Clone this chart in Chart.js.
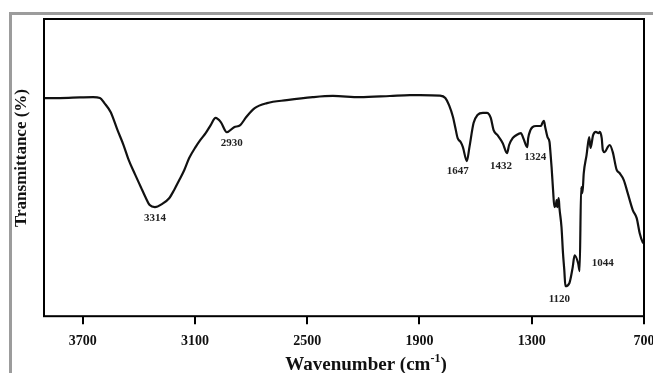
<!DOCTYPE html>
<html>
<head>
<meta charset="utf-8">
<script src="https://cdn.jsdelivr.net/npm/chart.js@4.4.1/dist/chart.umd.min.js"></script>
<style>
  html, body { margin: 0; padding: 0; background: #fff; }
  #wrap { position: relative; width: 653px; height: 373px; }
</style>
</head>
<body>
<div id="wrap"><canvas id="ftir" width="653" height="373"></canvas></div>
<script>
// FTIR spectrum, wavenumber in cm-1 (axis runs high -> low)
const wavenumber = [
  3907, 3822, 3715, 3645, 3608, 3584, 3551, 3514, 3482, 3454,
  3421, 3389, 3365, 3342, 3314, 3277, 3238, 3212, 3184, 3157,
  3131, 3097, 3071, 3043, 3016, 2990, 2962, 2930, 2891, 2858,
  2826, 2781, 2715, 2609, 2470, 2363, 2219, 2058, 1951, 1898,
  1791, 1762, 1742, 1721, 1709, 1696, 1680, 1668, 1647, 1633,
  1611, 1590, 1561, 1540, 1519, 1504, 1483, 1455, 1432, 1421,
  1402, 1383, 1358, 1345, 1324, 1319, 1307, 1296, 1277, 1251,
  1243, 1235, 1228, 1216, 1205, 1201, 1194, 1186, 1179, 1171,
  1167, 1163, 1156, 1152, 1141, 1133, 1126, 1120, 1099, 1081,
  1071, 1052, 1044, 1036, 1029, 1022, 1007, 993, 986, 972,
  958, 943, 936, 926, 920, 910, 894, 883, 867, 846,
  830, 808, 787, 760, 739, 723, 707, 701
];

const transmittance = [
  73.4, 73.4, 73.6, 73.7, 73.4, 71.7, 68.7, 62.6, 57.6, 52.5,
  47.8, 43.4, 40.1, 37.4, 36.7, 37.7, 39.7, 42.4, 45.8, 49.2,
  53.2, 56.9, 59.3, 61.6, 64.3, 66.7, 65.3, 61.9, 63.6, 64.3,
  67.0, 70.0, 71.7, 72.7, 73.7, 74.1, 73.7, 74.1, 74.4, 74.4,
  74.2, 73.4, 71.0, 67.0, 63.6, 59.9, 58.6, 56.9, 52.2, 56.9,
  65.0, 67.7, 68.4, 68.4, 66.7, 62.6, 60.9, 58.2, 54.9, 57.6,
  59.9, 60.9, 61.6, 59.9, 56.9, 59.9, 62.6, 63.6, 64.0, 64.0,
  65.0, 65.7, 63.6, 60.3, 58.6, 55.9, 50.2, 42.4, 36.7, 37.4,
  39.1, 36.7, 39.7, 36.4, 30.0, 21.2, 15.5, 10.1, 11.1, 16.5,
  20.5, 17.8, 15.2, 43.4, 41.4, 48.1, 54.2, 60.3, 56.6, 60.9,
  62.0, 61.6, 62.0, 59.9, 55.9, 55.2, 56.9, 57.6, 55.2, 49.2,
  48.1, 45.8, 41.4, 35.7, 33.0, 27.9, 24.9, 24.6
];

const xTicks = [3700, 3100, 2500, 1900, 1300, 700];

// band positions that get a number printed next to them
const peakLabels = [3314, 2930, 1647, 1432, 1324, 1120, 1044];

const SERIF = '"Liberation Serif", "Times New Roman", serif';

// text offset (px) from the band point
const labelOffset = {
  3314: [0, 11], 2930: [5, 11], 1647: [-9, 10], 1432: [-6, 13],
  1324: [8, 10], 1120: [-6, 13], 1044: [23, -8]
};

const points = wavenumber.map((w, i) => ({ x: w, y: transmittance[i] }));

// grey page edge, plot frame, band numbers and axis titles
const decorations = {
  id: "decorations",
  beforeDraw(chart) {
    const ctx = chart.ctx;
    ctx.save();
    ctx.fillStyle = "#fff";
    ctx.fillRect(0, 0, chart.width, chart.height);
    ctx.fillStyle = "#9c9c9c";
    ctx.fillRect(9, 12, 3, chart.height - 12);
    ctx.fillRect(9, 12, chart.width - 9, 3);
    ctx.restore();
  },
  afterDraw(chart) {
    const { ctx, chartArea: a, scales } = chart;
    ctx.save();
    ctx.strokeStyle = "#000";
    ctx.lineWidth = 2;
    ctx.strokeRect(a.left, a.top, a.right - a.left, a.bottom - a.top);

    ctx.fillStyle = "#222";
    ctx.font = "bold 11px " + SERIF;
    ctx.textAlign = "center";
    ctx.textBaseline = "middle";
    peakLabels.forEach((w) => {
      const i = wavenumber.indexOf(w);
      const px = scales.x.getPixelForValue(w);
      const py = scales.y.getPixelForValue(transmittance[i]);
      const [dx, dy] = labelOffset[w];
      ctx.fillText(String(w), px + dx, py + dy);
    });

    // x title with superscript
    ctx.fillStyle = "#111";
    ctx.textBaseline = "alphabetic";
    ctx.textAlign = "left";
    const big = "bold 19px " + SERIF;
    const small = "bold 12px " + SERIF;
    ctx.font = big;
    const t1 = "Wavenumber (cm";
    const w1 = ctx.measureText(t1).width;
    const w3 = ctx.measureText(")").width;
    ctx.font = small;
    const w2 = ctx.measureText("-1").width;
    const cx = (a.left + a.right) / 2 + 22;
    let x0 = cx - (w1 + w2 + w3) / 2;
    const base = 370;
    ctx.font = big;
    ctx.fillText(t1, x0, base);
    ctx.font = small;
    ctx.fillText("-1", x0 + w1, base - 8);
    ctx.font = big;
    ctx.fillText(")", x0 + w1 + w2, base);

    // y title
    ctx.translate(22, 158);
    ctx.rotate(-Math.PI / 2);
    ctx.textAlign = "center";
    ctx.textBaseline = "middle";
    ctx.font = "bold 17px " + SERIF;
    ctx.fillText("Transmittance (%)", 0, 0);
    ctx.restore();
  }
};

new Chart(document.getElementById("ftir"), {
  type: "line",
  data: {
    datasets: [
      {
        data: points,
        borderColor: "#111",
        borderWidth: 2.2,
        pointRadius: 0,
        cubicInterpolationMode: "monotone",
        fill: false,
      },
    ],
  },
  options: {
    responsive: false,
    animation: false,
    layout: { padding: { left: 44, right: 9, top: 19, bottom: 14 } },
    plugins: { legend: { display: false }, tooltip: { enabled: false } },
    scales: {
      x: {
        type: "linear",
        reverse: true,
        min: 700,
        max: 3907,
        afterBuildTicks: (scale) => {
          scale.ticks = xTicks.map((v) => ({ value: v }));
        },
        afterFit: (scale) => {
          scale.paddingLeft = 0;
          scale.paddingRight = 0;
        },
        grid: {
          drawOnChartArea: false,
          drawTicks: true,
          tickLength: 8,
          color: "#000",
          lineWidth: 2,
        },
        border: { display: false },
        ticks: {
          color: "#111",
          padding: 9,
          maxRotation: 0,
          font: { family: SERIF, size: 14, weight: "bold" },
          callback: (value) => String(value),
        },
      },
      y: {
        display: false,
        min: 0,
        max: 100,
      },
    },
  },
  plugins: [decorations],
});
</script>
</body>
</html>
